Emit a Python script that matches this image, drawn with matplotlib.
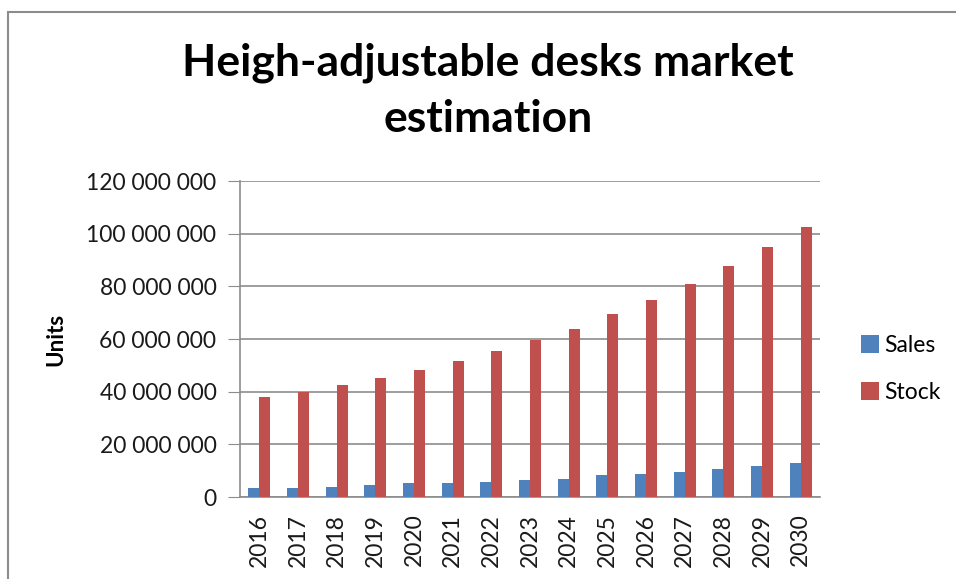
import numpy as np
import matplotlib.pyplot as plt
from matplotlib.ticker import FuncFormatter
from matplotlib.patches import Rectangle

years = [str(y) for y in range(2016, 2031)]
sales = [3.3e6, 3.4e6, 3.9e6, 4.5e6, 5.2e6, 5.2e6, 5.8e6, 6.3e6, 6.9e6,
         8.2e6, 8.8e6, 9.5e6, 10.7e6, 11.9e6, 13.0e6]
stock = [37.8e6, 39.8e6, 42.6e6, 45.1e6, 48.2e6, 51.7e6, 55.4e6, 59.8e6,
         63.8e6, 69.4e6, 74.8e6, 80.9e6, 87.6e6, 94.8e6, 102.7e6]

plt.rcParams["font.family"] = ["Lato", "DejaVu Sans"]

W, H = 956, 579
fig = plt.figure(figsize=(W / 100, H / 100), dpi=100)

# chart frame (only top/left edges fall inside the canvas)
fig.patches.append(Rectangle((7.5 / W, -0.1), 1.2, (H - 12) / H + 0.1,
                             transform=fig.transFigure, fill=False,
                             edgecolor="#8c8c8c", linewidth=1.5))

ax = fig.add_axes([240 / W, 1 - 497 / H, 580 / W, 316 / H])

x = np.arange(len(years))
w = 0.285
ax.bar(x - w / 2, sales, w, color="#4f81bd", label="Sales", zorder=3)
ax.bar(x + w / 2, stock, w, color="#c0504d", label="Stock", zorder=3)

ax.set_xlim(-0.5, len(years) - 0.5)
ax.set_ylim(0, 120e6)
ax.set_yticks(np.arange(0, 120e6 + 1, 20e6))
ax.yaxis.set_major_formatter(FuncFormatter(lambda v, p: f"{int(v):,}".replace(",", " ")))
ax.set_xticks(x)
ax.set_xticklabels(years, rotation=90)

ax.grid(axis="y", color="#8c8c8c", linewidth=1.2, zorder=0)
for s in ["top", "right"]:
    ax.spines[s].set_visible(False)
for s in ["left", "bottom"]:
    ax.spines[s].set_color("#8c8c8c")
    ax.spines[s].set_linewidth(1.2)
ax.tick_params(axis="y", length=9, color="#8c8c8c", labelsize=16.5, pad=8,
               labelcolor="#1a1a1a")
ax.tick_params(axis="x", length=0, labelsize=16.5, pad=12, labelcolor="#1a1a1a")

ax.set_ylabel("Units", fontsize=16, fontweight="bold", labelpad=14)

fig.text(488 / W, 1 - 63 / H, "Heigh-adjustable desks market", ha="center",
         va="center", fontsize=32, fontweight="bold")
fig.text(488 / W, 1 - 119 / H, "estimation", ha="center",
         va="center", fontsize=32, fontweight="bold")

fig.legend(loc="center left", bbox_to_anchor=(840 / W, 1 - 369 / H),
           frameon=False, fontsize=16.5, handlelength=0.8, handleheight=0.8,
           handletextpad=0.25, labelspacing=1.15)

fig.savefig("out.png", dpi=100)
